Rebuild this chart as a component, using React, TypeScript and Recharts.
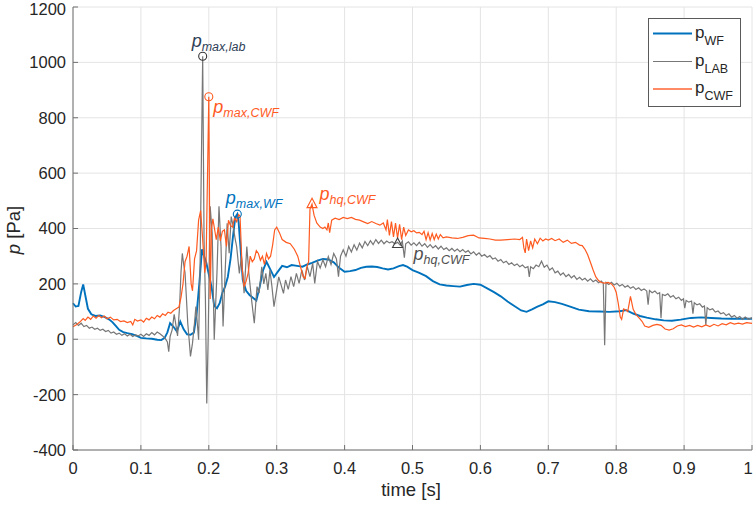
import { LineChart, Line, XAxis, YAxis, CartesianGrid, ReferenceDot } from 'recharts'

const timeTicks = [0, 0.1, 0.2, 0.3, 0.4, 0.5, 0.6, 0.7, 0.8, 0.9, 1]
const timeLabels = ['0', '0.1', '0.2', '0.3', '0.4', '0.5', '0.6', '0.7', '0.8', '0.9', '1']
const pTicks = [-400, -200, 0, 200, 400, 600, 800, 1000, 1200]

// p_WF (wave flume)
const wfT = [0, 0.004, 0.008, 0.012, 0.015, 0.018, 0.022, 0.027, 0.033, 0.04, 0.047, 0.053, 0.058, 0.063, 0.068, 0.074, 0.08, 0.087, 0.094, 0.1,
  0.108, 0.116, 0.124, 0.13, 0.135, 0.139, 0.143, 0.148, 0.153, 0.158, 0.163, 0.168, 0.173, 0.178, 0.182, 0.186, 0.19, 0.193, 0.196, 0.2,
  0.204, 0.208, 0.212, 0.216, 0.22, 0.224, 0.228, 0.232, 0.236, 0.239, 0.242, 0.244, 0.247, 0.25, 0.255, 0.26, 0.265, 0.27, 0.275, 0.28,
  0.285, 0.29, 0.296, 0.302, 0.308, 0.315, 0.322, 0.33, 0.338, 0.345, 0.352, 0.36, 0.368, 0.376, 0.384, 0.392, 0.4, 0.408, 0.416, 0.424,
  0.432, 0.44, 0.448, 0.456, 0.464, 0.472, 0.48, 0.486, 0.492, 0.5, 0.51, 0.52, 0.53, 0.54, 0.55, 0.56, 0.57, 0.58, 0.59, 0.6,
  0.61, 0.62, 0.63, 0.64, 0.65, 0.66, 0.668, 0.676, 0.684, 0.692, 0.7, 0.71, 0.72, 0.73, 0.745, 0.76, 0.775, 0.79, 0.805, 0.815,
  0.825, 0.835, 0.845, 0.858, 0.87, 0.882, 0.895, 0.91, 0.925, 0.94, 0.955, 0.97, 0.985, 1]
const wfP = [130, 118, 120, 170, 198, 160, 110, 90, 84, 86, 80, 72, 62, 48, 34, 26, 22, 18, 12, 5,
  3, 2, -2, -3, 5, 25, 58, 45, 28, 64, 36, 18, 16, 24, 90, 200, 325, 300, 280, 235,
  190, 120, 112, 130, 168, 190, 225, 290, 380, 440, 452, 420, 320, 215, 175, 160, 150, 140, 190, 250,
  280, 255, 225, 245, 265, 260, 268, 265, 262, 270, 276, 284, 290, 288, 278, 258, 244, 246, 250, 258,
  262, 263, 261, 256, 252, 256, 264, 268, 262, 250, 240, 228, 210, 198, 194, 192, 190, 196, 200, 197,
  184, 170, 155, 136, 120, 104, 99, 108, 118, 126, 137, 134, 128, 120, 107, 101, 100, 99, 101, 105,
  93, 84, 78, 72, 68, 67, 71, 77, 79, 77, 75, 74, 74, 74]

// p_LAB (laboratory)
const labT = [0, 0.004, 0.008, 0.012, 0.016, 0.02, 0.024, 0.028, 0.032, 0.036, 0.04, 0.044, 0.048, 0.052, 0.056, 0.06, 0.064, 0.068, 0.072, 0.076,
  0.08, 0.084, 0.088, 0.092, 0.096, 0.1, 0.104, 0.108, 0.112, 0.116, 0.12, 0.124, 0.128, 0.132, 0.136, 0.139, 0.141, 0.143, 0.146, 0.149,
  0.151, 0.154, 0.157, 0.159, 0.161, 0.163, 0.165, 0.167, 0.169, 0.171, 0.173, 0.176, 0.179, 0.181, 0.183, 0.185, 0.187, 0.191, 0.193, 0.195,
  0.197, 0.199, 0.202, 0.205, 0.208, 0.21, 0.212, 0.215, 0.218, 0.221, 0.224, 0.227, 0.23, 0.233, 0.236, 0.239, 0.241, 0.245, 0.248, 0.252,
  0.256, 0.259, 0.263, 0.267, 0.271, 0.274, 0.278, 0.281, 0.284, 0.287, 0.29, 0.293, 0.296, 0.3, 0.303, 0.306, 0.31, 0.313, 0.317, 0.321,
  0.325, 0.329, 0.333, 0.337, 0.341, 0.345, 0.349, 0.353, 0.356, 0.36, 0.364, 0.368, 0.372, 0.376, 0.38, 0.384, 0.388, 0.391, 0.394, 0.398,
  0.402, 0.406, 0.41, 0.414, 0.418, 0.422, 0.426, 0.43, 0.434, 0.438, 0.442, 0.446, 0.45, 0.454, 0.458, 0.462, 0.466, 0.47, 0.474, 0.478,
  0.482, 0.485, 0.488, 0.49, 0.494, 0.498, 0.502, 0.506, 0.51, 0.514, 0.518, 0.522, 0.526, 0.53, 0.534, 0.538, 0.542, 0.546, 0.55, 0.554,
  0.558, 0.562, 0.566, 0.57, 0.574, 0.578, 0.582, 0.586, 0.59, 0.594, 0.598, 0.602, 0.606, 0.61, 0.614, 0.618, 0.622, 0.626, 0.63, 0.634,
  0.638, 0.642, 0.646, 0.65, 0.654, 0.658, 0.662, 0.666, 0.67, 0.672, 0.674, 0.678, 0.682, 0.686, 0.69, 0.694, 0.698, 0.702, 0.706, 0.71,
  0.714, 0.718, 0.722, 0.726, 0.73, 0.734, 0.738, 0.742, 0.746, 0.75, 0.754, 0.758, 0.762, 0.766, 0.77, 0.774, 0.778, 0.781, 0.783, 0.785,
  0.789, 0.793, 0.797, 0.801, 0.805, 0.809, 0.813, 0.817, 0.821, 0.825, 0.829, 0.833, 0.837, 0.841, 0.845, 0.847, 0.849, 0.853, 0.857, 0.861,
  0.864, 0.866, 0.868, 0.872, 0.876, 0.88, 0.884, 0.888, 0.892, 0.896, 0.899, 0.901, 0.903, 0.907, 0.911, 0.913, 0.915, 0.919, 0.923, 0.927,
  0.93, 0.932, 0.934, 0.938, 0.942, 0.946, 0.95, 0.954, 0.958, 0.962, 0.966, 0.97, 0.974, 0.978, 0.982, 0.986, 0.99, 0.995, 1]
const labP = [52, 60, 50, 58, 46, 50, 40, 44, 36, 40, 32, 36, 28, 32, 22, 26, 18, 22, 14, 20,
  12, 18, 10, 16, 12, 18, 10, 20, 14, 24, 16, 26, 20, 12, 2, -10, -45, 10, 34, 90,
  60, 12, 120, 240, 310, 270, 240, 150, 58, 0, -62, -14, 60, 118, 60, -2, 238, 1022, 360, 150,
  -232, -2, 480, 383, -2, 120, 238, 480, 335, 46, 238, 419, 311, 443, 407, 360, 335, 238, 299, 166,
  335, 238, 142, 58, 190, 166, 262, 200, 238, 178, 250, 190, 118, 178, 225, 200, 166, 214, 180, 226,
  190, 238, 202, 250, 214, 262, 226, 275, 202, 281, 257, 287, 262, 299, 270, 310, 290, 226, 300, 323,
  300, 335, 315, 341, 322, 347, 330, 353, 338, 356, 342, 360, 346, 358, 345, 355, 348, 352, 345, 350,
  340, 355, 295, 345, 352, 340, 348, 338, 350, 336, 345, 332, 342, 330, 338, 326, 336, 324, 330, 320,
  328, 318, 326, 316, 324, 314, 320, 308, 316, 304, 312, 300, 306, 296, 302, 290, 294, 282, 288, 276,
  282, 270, 276, 266, 272, 262, 268, 258, 262, 225, 262, 255, 268, 262, 282, 260, 268, 250, 258, 240,
  246, 232, 240, 226, 234, 222, 230, 216, 224, 214, 220, 210, 218, 208, 214, 204, 210, 202, -22, 205,
  198, 206, 196, 202, 192, 198, 188, 194, 184, 190, 180, 186, 176, 182, 174, 125, 176, 168, 174, 164,
  168, 76, 162, 158, 164, 152, 158, 146, 152, 140, 146, 112, 140, 134, 138, 92, 132, 124, 128, 116,
  120, 52, 114, 106, 110, 98, 102, 92, 96, 86, 92, 80, 86, 76, 82, 72, 80, 72, 78]

// p_CWF (coupled wave flume)
const cwfT = [0, 0.005, 0.01, 0.015, 0.018, 0.022, 0.026, 0.03, 0.034, 0.038, 0.042, 0.046, 0.05, 0.055, 0.06, 0.065, 0.07, 0.075, 0.08, 0.085,
  0.088, 0.091, 0.095, 0.1, 0.104, 0.108, 0.112, 0.116, 0.12, 0.124, 0.128, 0.132, 0.136, 0.14, 0.144, 0.148, 0.152, 0.156, 0.159, 0.162,
  0.165, 0.168, 0.171, 0.174, 0.176, 0.179, 0.182, 0.185, 0.188, 0.191, 0.194, 0.196, 0.2, 0.202, 0.204, 0.206, 0.209, 0.211, 0.214, 0.217,
  0.22, 0.223, 0.226, 0.229, 0.232, 0.235, 0.238, 0.241, 0.244, 0.246, 0.249, 0.252, 0.255, 0.258, 0.261, 0.264, 0.267, 0.27, 0.273, 0.276,
  0.279, 0.282, 0.285, 0.288, 0.291, 0.294, 0.297, 0.3, 0.304, 0.308, 0.314, 0.32, 0.326, 0.331, 0.335, 0.339, 0.342, 0.344, 0.347, 0.349,
  0.352, 0.355, 0.359, 0.364, 0.368, 0.371, 0.374, 0.376, 0.378, 0.381, 0.386, 0.392, 0.398, 0.404, 0.41, 0.416, 0.422, 0.428, 0.434, 0.44,
  0.446, 0.452, 0.457, 0.461, 0.463, 0.466, 0.469, 0.472, 0.475, 0.478, 0.481, 0.484, 0.487, 0.49, 0.494, 0.498, 0.502, 0.506, 0.51, 0.514,
  0.517, 0.52, 0.523, 0.526, 0.529, 0.532, 0.535, 0.538, 0.541, 0.545, 0.55, 0.558, 0.566, 0.574, 0.582, 0.59, 0.598, 0.606, 0.614, 0.622,
  0.63, 0.64, 0.65, 0.658, 0.662, 0.664, 0.666, 0.668, 0.671, 0.674, 0.677, 0.68, 0.684, 0.688, 0.692, 0.696, 0.7, 0.705, 0.71, 0.716,
  0.722, 0.728, 0.734, 0.74, 0.746, 0.75, 0.754, 0.758, 0.762, 0.766, 0.77, 0.774, 0.778, 0.783, 0.788, 0.793, 0.797, 0.8, 0.803, 0.806,
  0.808, 0.811, 0.814, 0.817, 0.821, 0.825, 0.829, 0.834, 0.838, 0.842, 0.848, 0.854, 0.86, 0.866, 0.872, 0.878, 0.884, 0.89, 0.896, 0.902,
  0.908, 0.914, 0.92, 0.926, 0.932, 0.938, 0.944, 0.95, 0.956, 0.962, 0.968, 0.974, 0.98, 0.986, 0.992, 1]
const cwfP = [45, 52, 62, 75, 68, 80, 72, 84, 76, 86, 78, 84, 74, 80, 70, 72, 64, 66, 60, 64,
  52, 72, 66, 70, 62, 76, 70, 80, 74, 86, 80, 92, 86, 98, 94, 104, 110, 116, 150, 200,
  280, 300, 335, 200, 175, 290, 320, 430, 465, 360, 240, 280, 876, 145, 400, 435, 390, 360, 405, 355,
  390, 395, 335, 430, 410, 405, 440, 425, 450, 445, 260, 190, 210, 240, 300, 280, 290, 320, 310, 285,
  300, 270, 310, 290, 300, 340, 395, 405, 385, 360, 350, 345, 325, 300, 262, 225, 220, 258, 280, 470,
  488, 448, 420, 405, 400, 405, 395, 420, 385, 430, 437, 432, 440, 436, 440, 433, 430, 424, 418, 425,
  418, 412, 420, 395, 432, 375, 425, 370, 420, 365, 415, 360, 405, 375, 395, 388, 392, 384, 386, 378,
  390, 360, 385, 358, 382, 360, 380, 362, 378, 366, 370, 366, 364, 368, 374, 376, 366, 364, 362, 358,
  358, 360, 362, 360, 368, 330, 312, 362, 320, 355, 330, 362, 345, 365, 355, 362, 358, 364, 356, 362,
  350, 358, 346, 350, 340, 338, 325, 305, 278, 250, 225, 212, 205, 203, 205, 200, 188, 170, 130, 80,
  72, 110, 106, 100, 155, 108, 90, 76, 65, 48, 43, 50, 54, 50, 37, 33, 38, 48, 52, 46,
  50, 44, 50, 45, 52, 46, 54, 48, 56, 52, 60, 55, 58, 55, 60, 57]

// peak / characteristic pressure markers
const maxLab = { t: 0.191, p: 1022 }
const maxCwf = { t: 0.2, p: 876 }
const maxWf = { t: 0.242, p: 452 }
const hqCwf = { t: 0.352, p: 488 }
const hqLab = { t: 0.478, p: 344 }

const zip = (t: number[], p: number[]) => t.map((x, i) => ({ t: x, p: p[i] }))
const wfData = zip(wfT, wfP)
const labData = zip(labT, labP)
const cwfData = zip(cwfT, cwfP)

const W = 754
const H = 505
const LEFT = 73
const RIGHT = 752
const TOP = 7
const BOTTOM = 450

const FONT = '"Liberation Sans", Arial, Helvetica, sans-serif'
const AXIS = '#707070'
const TEXT = '#262626'
const BLUE = '#0072BD'
const GRAY = '#777777'
const ORANGE = '#FF5A1F'

const leftTick = (props: any) => (
  <g>
    <line x1={LEFT} x2={LEFT + 5} y1={props.y} y2={props.y} stroke={AXIS} />
    <text x={LEFT - 7} y={Math.max(props.y, 9)} dy="0.36em" textAnchor="end" fontSize={16.5} fill={TEXT} fontFamily={FONT}>
      {props.payload.value}
    </text>
  </g>
)
const rightTick = (props: any) => (
  <line x1={RIGHT - 5} x2={RIGHT} y1={props.y} y2={props.y} stroke={AXIS} />
)
const bottomTick = (props: any) => (
  <g>
    <line x1={props.x} x2={props.x} y1={BOTTOM - 5} y2={BOTTOM} stroke={AXIS} />
    <text x={Math.min(props.x, W - 6)} y={BOTTOM + 24} textAnchor="middle" fontSize={16.5} fill={TEXT} fontFamily={FONT}>
      {timeLabels[timeTicks.indexOf(props.payload.value)]}
    </text>
  </g>
)
const topTick = (props: any) => (
  <line x1={props.x} x2={props.x} y1={TOP} y2={TOP + 5} stroke={AXIS} />
)

function Tag({ x, y, sub, color }: { x: number; y: number; sub: string; color: string }) {
  return (
    <text x={x} y={y} fill={color} fontFamily={FONT} fontStyle="italic" fontSize={18}>
      p<tspan fontSize={12.5} dy={4}>{sub}</tspan>
    </text>
  )
}

const circleShape = (color: string, sub: string, dx: number, dy: number, tagColor: string) => (props: any) => (
  <g>
    <circle cx={props.cx} cy={props.cy} r={4} fill="none" stroke={color} strokeWidth={1.1} />
    <Tag x={props.cx + dx} y={props.cy + dy} sub={sub} color={tagColor} />
  </g>
)
const triShape = (color: string, sub: string, dx: number, dy: number, tagColor: string) => (props: any) => (
  <g>
    <path d={`M${props.cx},${props.cy - 6}L${props.cx - 5},${props.cy + 3.5}L${props.cx + 5},${props.cy + 3.5}Z`}
      fill="none" stroke={color} strokeWidth={1.1} />
    <Tag x={props.cx + dx} y={props.cy + dy} sub={sub} color={tagColor} />
  </g>
)

function LegendEntry({ y, color, width, sub }: { y: number; color: string; width: number; sub: string }) {
  return (
    <g>
      <line x1={653} x2={692} y1={y} y2={y} stroke={color} strokeWidth={width} />
      <text x={695} y={y + 4} fontFamily={FONT} fontSize={17} fill={TEXT}>
        p<tspan fontSize={12.5} dy={7}>{sub}</tspan>
      </text>
    </g>
  )
}

export default function App() {
  return (
    <div style={{ position: 'relative', width: W, height: H, background: '#fff' }}>
      <style>{'body{margin:0}'}</style>
      <LineChart width={W} height={H} margin={{ top: TOP, right: W - RIGHT, bottom: 0, left: 0 }}>
        <CartesianGrid stroke="#e4e4e4" />
        <XAxis dataKey="t" type="number" domain={[0, 1]} ticks={timeTicks} height={H - BOTTOM}
          axisLine={{ stroke: AXIS }} tickLine={false} tick={bottomTick} interval={0} />
        <XAxis xAxisId="top" orientation="top" type="number" domain={[0, 1]} ticks={timeTicks} height={0}
          axisLine={{ stroke: AXIS }} tickLine={false} tick={topTick} interval={0} />
        <YAxis type="number" domain={[-400, 1200]} ticks={pTicks} width={LEFT}
          axisLine={{ stroke: AXIS }} tickLine={false} tick={leftTick} interval={0} />
        <YAxis yAxisId="right" orientation="right" type="number" domain={[-400, 1200]} ticks={pTicks} width={0}
          axisLine={{ stroke: AXIS }} tickLine={false} tick={rightTick} interval={0} />
        <Line data={wfData} dataKey="p" type="linear" stroke={BLUE} strokeWidth={1.9} dot={false} isAnimationActive={false} />
        <Line data={labData} dataKey="p" type="linear" stroke={GRAY} strokeWidth={1.2} dot={false} isAnimationActive={false} />
        <Line data={cwfData} dataKey="p" type="linear" stroke={ORANGE} strokeWidth={1.2} dot={false} isAnimationActive={false} />
        <ReferenceDot x={maxLab.t} y={maxLab.p} r={4} shape={circleShape('#333333', 'max,lab', -11, -9.5, '#2E4057')} />
        <ReferenceDot x={maxCwf.t} y={maxCwf.p} r={4} shape={circleShape(ORANGE, 'max,CWF', 4.5, 16.5, ORANGE)} />
        <ReferenceDot x={maxWf.t} y={maxWf.p} r={4} shape={circleShape(BLUE, 'max,WF', -11.5, -10.5, BLUE)} />
        <ReferenceDot x={hqCwf.t} y={hqCwf.p} r={4} shape={triShape(ORANGE, 'hq,CWF', 7.5, -4, ORANGE)} />
        <ReferenceDot x={hqLab.t} y={hqLab.p} r={4} shape={triShape('#404040', 'hq,CWF', 16, 16, '#505050')} />
      </LineChart>
      <svg width={W} height={H} style={{ position: 'absolute', left: 0, top: 0, pointerEvents: 'none' }}>
        <text x={411} y={496} textAnchor="middle" fontFamily={FONT} fontSize={18.5} fill={TEXT}>time [s]</text>
        <text transform="translate(20,230) rotate(-90)" textAnchor="middle" fontFamily={FONT} fontSize={18.5} fill={TEXT}>
          <tspan fontStyle="italic">p</tspan> [Pa]
        </text>
        <rect x={648.5} y={18.5} width={92} height={88} fill="#fff" stroke="#5a5a5a" strokeWidth={1} />
        <LegendEntry y={33.5} color={BLUE} width={2} sub="WF" />
        <LegendEntry y={61.5} color={GRAY} width={1} sub="LAB" />
        <LegendEntry y={89} color="#FF8A66" width={2} sub="CWF" />
      </svg>
    </div>
  )
}
